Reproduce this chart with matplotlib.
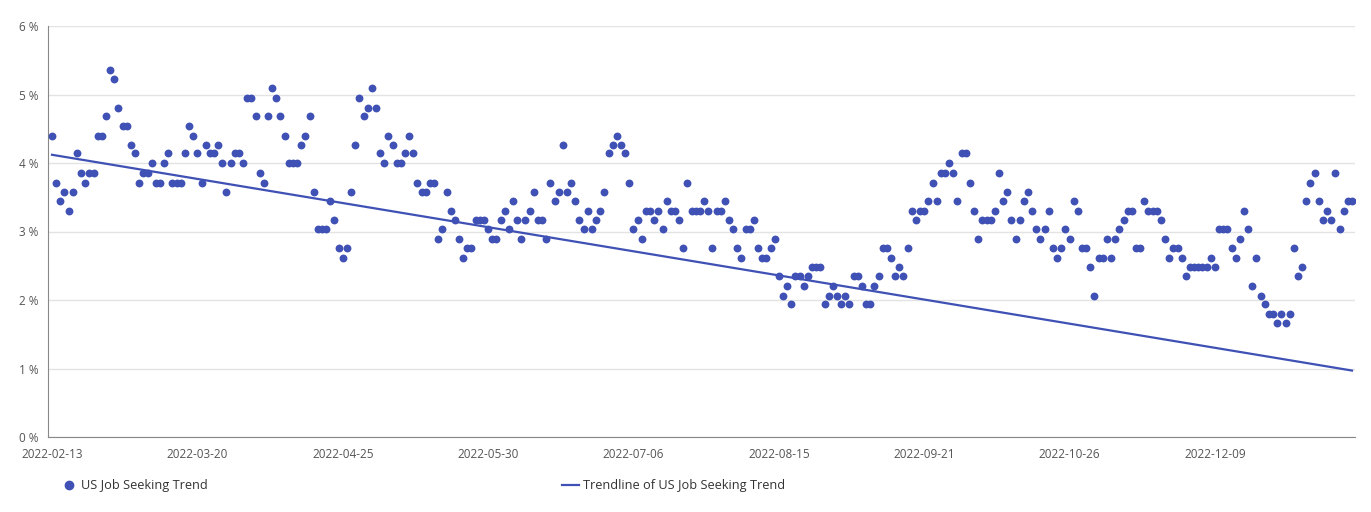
import numpy as np
import matplotlib
matplotlib.use("Agg")
import matplotlib.pyplot as plt
from matplotlib.lines import Line2D

# daily share of US job seeking searches (%), one value per category slot
job_seeking = [
    4.40, 3.71, 3.44, 3.58, 3.30, 3.58, 4.14, 3.85, 3.71, 3.85,
    3.85, 4.40, 4.40, 4.68, 5.36, 5.22, 4.81, 4.54, 4.54, 4.27,
    4.14, 3.71, 3.85, 3.85, 4.00, 3.71, 3.71, 4.00, 4.14, 3.71,
    3.71, 3.71, 4.14, 4.54, 4.40, 4.14, 3.71, 4.27, 4.14, 4.14,
    4.27, 4.00, 3.58, 4.00, 4.14, 4.14, 4.00, 4.95, 4.95, 4.68,
    3.85, 3.71, 4.68, 5.09, 4.95, 4.68, 4.40, 4.00, 4.00, 4.00,
    4.27, 4.40, 4.68, 3.58, 3.03, 3.03, 3.03, 3.44, 3.17, 2.76,
    2.62, 2.76, 3.58, 4.27, 4.95, 4.68, 4.81, 5.09, 4.81, 4.14,
    4.00, 4.40, 4.27, 4.00, 4.00, 4.14, 4.40, 4.14, 3.71, 3.58,
    3.58, 3.71, 3.71, 2.89, 3.03, 3.58, 3.30, 3.17, 2.89, 2.62,
    2.76, 2.76, 3.17, 3.17, 3.17, 3.03, 2.89, 2.89, 3.17, 3.30,
    3.03, 3.44, 3.17, 2.89, 3.17, 3.30, 3.58, 3.17, 3.17, 2.89,
    3.71, 3.44, 3.58, 4.27, 3.58, 3.71, 3.44, 3.17, 3.03, 3.30,
    3.03, 3.17, 3.30, 3.58, 4.14, 4.27, 4.40, 4.27, 4.14, 3.71,
    3.03, 3.17, 2.89, 3.30, 3.30, 3.17, 3.30, 3.03, 3.44, 3.30,
    3.30, 3.17, 2.76, 3.71, 3.30, 3.30, 3.30, 3.44, 3.30, 2.76,
    3.30, 3.30, 3.44, 3.17, 3.03, 2.76, 2.62, 3.03, 3.03, 3.17,
    2.76, 2.62, 2.62, 2.76, 2.89, 2.35, 2.06, 2.21, 1.94, 2.35,
    2.35, 2.21, 2.35, 2.48, 2.48, 2.48, 1.94, 2.06, 2.21, 2.06,
    1.94, 2.06, 1.94, 2.35, 2.35, 2.21, 1.94, 1.94, 2.21, 2.35,
    2.76, 2.76, 2.62, 2.35, 2.48, 2.35, 2.76, 3.30, 3.17, 3.30,
    3.30, 3.44, 3.71, 3.44, 3.85, 3.85, 4.00, 3.85, 3.44, 4.14,
    4.14, 3.71, 3.30, 2.89, 3.17, 3.17, 3.17, 3.30, 3.85, 3.44,
    3.58, 3.17, 2.89, 3.17, 3.44, 3.58, 3.30, 3.03, 2.89, 3.03,
    3.30, 2.76, 2.62, 2.76, 3.03, 2.89, 3.44, 3.30, 2.76, 2.76,
    2.48, 2.06, 2.62, 2.62, 2.89, 2.62, 2.89, 3.03, 3.17, 3.30,
    3.30, 2.76, 2.76, 3.44, 3.30, 3.30, 3.30, 3.17, 2.89, 2.62,
    2.76, 2.76, 2.62, 2.35, 2.48, 2.48, 2.48, 2.48, 2.48, 2.62,
    2.48, 3.03, 3.03, 3.03, 2.76, 2.62, 2.89, 3.30, 3.03, 2.21,
    2.62, 2.06, 1.94, 1.80, 1.80, 1.66, 1.80, 1.66, 1.80, 2.76,
    2.35, 2.48, 3.44, 3.71, 3.85, 3.44, 3.17, 3.30, 3.17, 3.85,
    3.03, 3.30, 3.44, 3.44,
]

tick_labels = ["2022-02-13", "2022-03-20", "2022-04-25", "2022-05-30",
               "2022-07-06", "2022-08-15", "2022-09-21", "2022-10-26",
               "2022-12-09"]
tick_step = 35

# trendline as drawn in the source (start / end value, %)
trend_values = [4.12, 0.97]

dot_color = "#3f51b5"
text_color = "#555555"

plt.rcParams["font.family"] = ["Open Sans", "DejaVu Sans"]

W, H = 1371, 512
fig = plt.figure(figsize=(W / 100, H / 100), dpi=100)
ax = fig.add_axes([48 / W, (H - 437) / H, (1355 - 48) / W, (437 - 26) / H])

x = np.arange(len(job_seeking))
ax.scatter(x, job_seeking, s=32, color=dot_color, linewidths=0, zorder=3)
ax.plot([x[0], x[-1]], trend_values, color=dot_color, lw=1.6, zorder=2)

px = 1300 / (len(job_seeking) - 1)
ax.set_xlim(-4 / px, x[-1] + 3 / px)
ax.set_ylim(0, 6)

ax.set_yticks(range(0, 7))
ax.set_yticklabels([f"{v} %" for v in range(0, 7)])
ax.set_xticks(np.arange(len(tick_labels)) * tick_step)
ax.set_xticklabels(tick_labels)
ax.tick_params(axis="both", length=0, labelsize=8.5, colors=text_color)
ax.tick_params(axis="x", pad=8)
ax.tick_params(axis="y", pad=7)

ax.grid(axis="y", color="#e3e3e3", lw=1)
ax.set_axisbelow(True)
for s in ["top", "right"]:
    ax.spines[s].set_visible(False)
ax.spines["left"].set_color("#888888")
ax.spines["bottom"].set_color("#888888")

h1 = Line2D([], [], marker="o", ls="none", color=dot_color, markersize=6)
h2 = Line2D([], [], color=dot_color, lw=1.6)
fig.legend([h1], ["US Job Seeking Trend"], loc="center left",
           bbox_to_anchor=(50 / W, (H - 486) / H), frameon=False,
           fontsize=9.2, labelcolor="#333333", handlelength=1.1, handletextpad=0.45)
fig.legend([h2], ["Trendline of US Job Seeking Trend"], loc="center left",
           bbox_to_anchor=(550 / W, (H - 486) / H), frameon=False,
           fontsize=9.2, labelcolor="#333333", handlelength=1.4, handletextpad=0.32)

fig.savefig("out.png", dpi=100, facecolor="white")
